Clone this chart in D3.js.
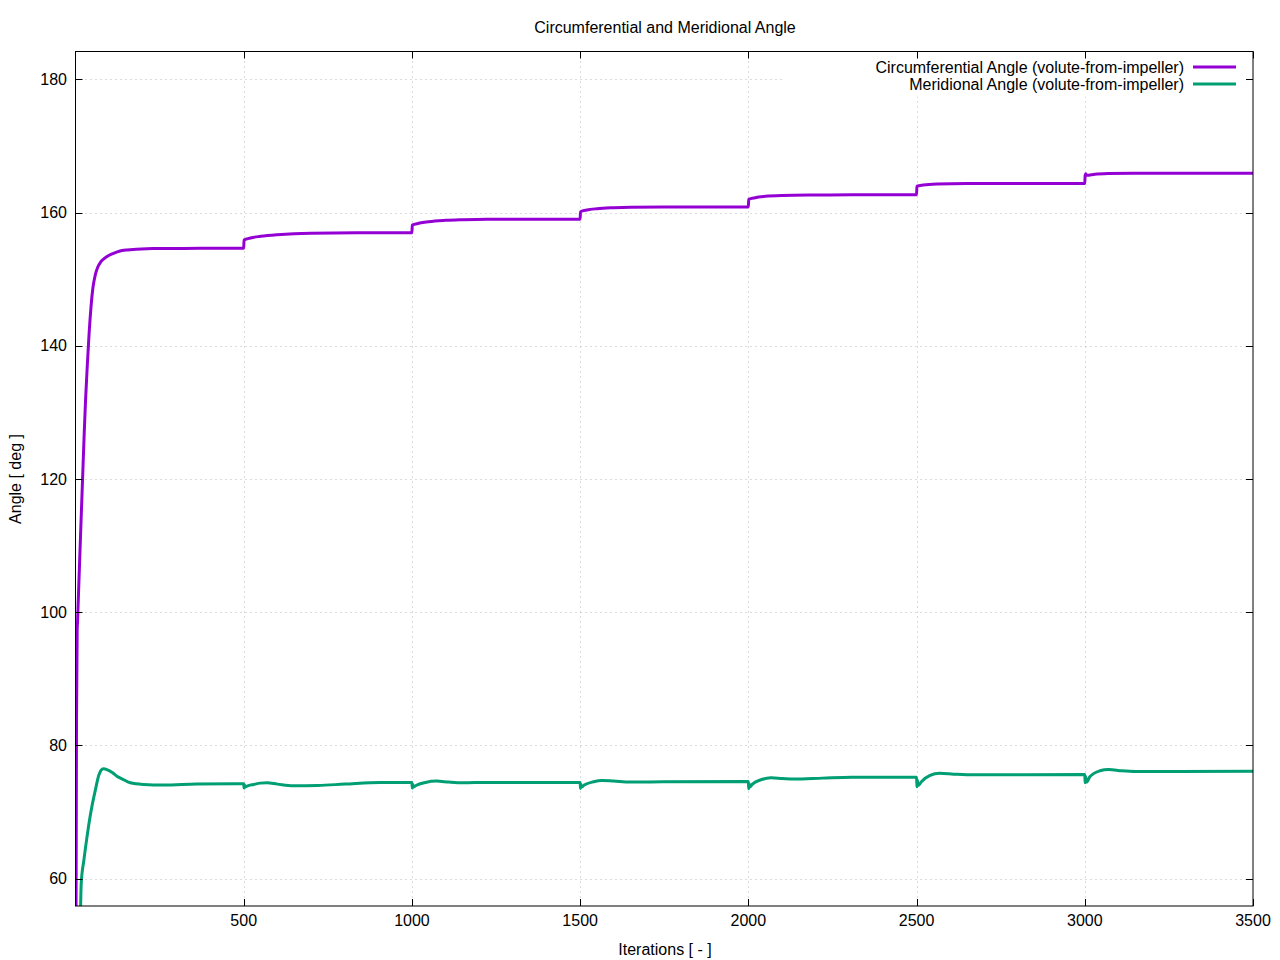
<!DOCTYPE html>
<html>
<head>
<meta charset="utf-8">
<script src="https://cdn.jsdelivr.net/npm/d3@7"></script>
<style>
  html, body { margin: 0; padding: 0; background: #fff; }
  svg { display: block; font-family: "Liberation Sans", Arial, sans-serif; }
</style>
</head>
<body>
<svg id="chart" width="1280" height="960"></svg>
<script>
// ---- data ----
const title = "Circumferential and Meridional Angle";
const xLabel = "Iterations [ - ]";
const yLabel = "Angle [ deg ]";
const seriesNames = ["Circumferential Angle (volute-from-impeller)", "Meridional Angle (volute-from-impeller)"];
const xTicks = [500, 1000, 1500, 2000, 2500, 3000, 3500];
const yTicks = [60, 80, 100, 120, 140, 160, 180];

const circIter = [0, 3, 5, 6, 7, 11, 16, 21, 26, 30, 35, 40, 46, 52, 59, 66, 75, 85, 100, 113, 130, 153, 212, 300, 370, 500,
  501, 520, 550, 600, 650, 700, 836, 1000,
  1001, 1020, 1050, 1100, 1150, 1222, 1500,
  1501, 1520, 1550, 1600, 1650, 1746, 2000,
  2001, 2020, 2050, 2100, 2200, 2307, 2500,
  2501, 2520, 2560, 2649, 3000,
  3001, 3003, 3005, 3030, 3070, 3144, 3500];
const circVal = [20, 84, 97.5, 98.5, 100, 105.8, 113, 120, 127, 132, 137, 141.5, 145.8, 148.8, 150.7, 151.8, 152.6, 153.1, 153.6, 153.9, 154.2, 154.4, 154.6, 154.63, 154.65, 154.65,
  155.88, 156.2, 156.45, 156.7, 156.85, 156.92, 156.98, 156.98,
  158.13, 158.4, 158.65, 158.85, 158.95, 159.03, 159.03,
  160.13, 160.4, 160.6, 160.75, 160.83, 160.87, 160.87,
  161.99, 162.25, 162.45, 162.58, 162.65, 162.68, 162.68,
  163.98, 164.15, 164.3, 164.38, 164.38,
  165.59, 165.85, 165.62, 165.78, 165.88, 165.93, 165.93];

const meridIter = [0, 13, 17, 25, 34, 41, 49, 59, 69, 76, 83, 95, 108, 123, 138, 163, 202, 262, 360, 479, 500,
  501, 502, 504, 510, 530, 550, 569, 600, 647, 720, 800, 905, 1000,
  1001, 1002, 1004, 1012, 1040, 1073, 1110, 1152, 1222, 1500,
  1501, 1502, 1504, 1512, 1540, 1564, 1600, 1649, 1746, 2000,
  2001, 2002, 2004, 2012, 2040, 2067, 2100, 2135, 2220, 2307, 2500,
  2501, 2502, 2505, 2515, 2540, 2569, 2610, 2649, 3000,
  3001, 3002, 3005, 3015, 3045, 3071, 3110, 3152, 3500];
const meridVal = [30, 50, 59.3, 62.8, 66.2, 68.6, 70.9, 73.3, 75.5, 76.3, 76.5, 76.35, 76.0, 75.4, 75.0, 74.4, 74.15, 74.05, 74.2, 74.25, 74.25,
  73.6, 74.15, 73.75, 73.9, 74.15, 74.35, 74.4, 74.2, 73.95, 74.0, 74.2, 74.45, 74.45,
  73.6, 74.2, 73.75, 74.0, 74.45, 74.65, 74.5, 74.4, 74.45, 74.45,
  73.55, 74.2, 73.75, 74.05, 74.55, 74.75, 74.65, 74.5, 74.55, 74.6,
  73.5, 74.3, 73.75, 74.2, 74.9, 75.15, 75.05, 74.95, 75.1, 75.25, 75.25,
  73.8, 74.8, 74.0, 74.6, 75.5, 75.85, 75.7, 75.6, 75.65,
  74.4, 75.4, 74.5, 75.3, 76.2, 76.4, 76.2, 76.1, 76.15];

const colors = ["#9400d3", "#009e73"];

// ---- layout ----
const svg = d3.select("#chart");
const L = 75.5, R = 1253, T = 51.5, B = 906;
const x = d3.scaleLinear().domain([0, 3500]).range([L, R]);
const y = d3.scaleLinear().domain([55.9, 184.2]).range([B, T]);
const fontSize = 16;

// grid
const grid = svg.append("g").attr("stroke", "#b8b8b8").attr("stroke-width", 1).attr("stroke-dasharray", "1,4");
yTicks.forEach(v => grid.append("line").attr("x1", L).attr("x2", R)
  .attr("y1", Math.round(y(v)) + 0.5).attr("y2", Math.round(y(v)) + 0.5));
xTicks.filter(v => v < 3500).forEach(v => grid.append("line").attr("y1", T).attr("y2", B)
  .attr("x1", Math.round(x(v)) + 0.5).attr("x2", Math.round(x(v)) + 0.5));

// clip
svg.append("defs").append("clipPath").attr("id", "clip")
  .append("rect").attr("x", L).attr("y", T).attr("width", R - L).attr("height", B - T);

const line = d3.line().x(d => x(d[0])).y(d => y(d[1])).curve(d3.curveMonotoneX);
const circData = circIter.map((it, i) => [it, circVal[i]]);
const meridData = meridIter.map((it, i) => [it, meridVal[i]]);

const plot = svg.append("g").attr("clip-path", "url(#clip)");
[circData, meridData].forEach((data, i) => {
  plot.append("path").datum(data).attr("d", line)
    .attr("fill", "none").attr("stroke", colors[i]).attr("stroke-width", 3)
    .attr("stroke-linejoin", "round");
});

// key (opaque)
svg.append("rect").attr("x", 785).attr("y", T + 0.5).attr("width", R - 785).attr("height", 96 - T)
  .attr("fill", "#fff");
const keyY = [67, 84];
seriesNames.forEach((name, i) => {
  svg.append("text").attr("x", 1184).attr("y", keyY[i]).attr("dy", "0.35em")
    .attr("text-anchor", "end").attr("font-size", fontSize).attr("fill", "#000").text(name);
  svg.append("line").attr("x1", 1193).attr("x2", 1236).attr("y1", keyY[i]).attr("y2", keyY[i])
    .attr("stroke", colors[i]).attr("stroke-width", 3);
});

// frame
svg.append("rect").attr("x", L).attr("y", T).attr("width", R - L).attr("height", B - T)
  .attr("fill", "none").attr("stroke", "#000").attr("stroke-width", 1);

// ticks (inward, mirrored)
const tk = 7;
const ticks = svg.append("g").attr("stroke", "#000").attr("stroke-width", 1);
yTicks.forEach(v => {
  const yy = Math.round(y(v)) + 0.5;
  ticks.append("line").attr("x1", L).attr("x2", L + tk).attr("y1", yy).attr("y2", yy);
  ticks.append("line").attr("x1", R).attr("x2", R - tk).attr("y1", yy).attr("y2", yy);
});
xTicks.forEach(v => {
  const xx = Math.round(x(v)) + 0.5;
  ticks.append("line").attr("y1", B).attr("y2", B - tk).attr("x1", xx).attr("x2", xx);
  ticks.append("line").attr("y1", T).attr("y2", T + tk).attr("x1", xx).attr("x2", xx);
});

// tick labels
yTicks.forEach(v => svg.append("text").attr("x", 67).attr("y", y(v)).attr("dy", "0.35em")
  .attr("text-anchor", "end").attr("font-size", fontSize).text(v));
xTicks.forEach(v => svg.append("text").attr("x", x(v)).attr("y", 920).attr("dy", "0.35em")
  .attr("text-anchor", "middle").attr("font-size", fontSize).text(v));

// titles
svg.append("text").attr("x", 665).attr("y", 27).attr("dy", "0.35em").attr("text-anchor", "middle")
  .attr("font-size", fontSize).text(title);
svg.append("text").attr("x", 665).attr("y", 949).attr("dy", "0.35em").attr("text-anchor", "middle")
  .attr("font-size", fontSize).text(xLabel);
svg.append("text").attr("transform", "translate(15,479) rotate(-90)").attr("dy", "0.35em")
  .attr("text-anchor", "middle").attr("font-size", fontSize).text(yLabel);
</script>
</body>
</html>
